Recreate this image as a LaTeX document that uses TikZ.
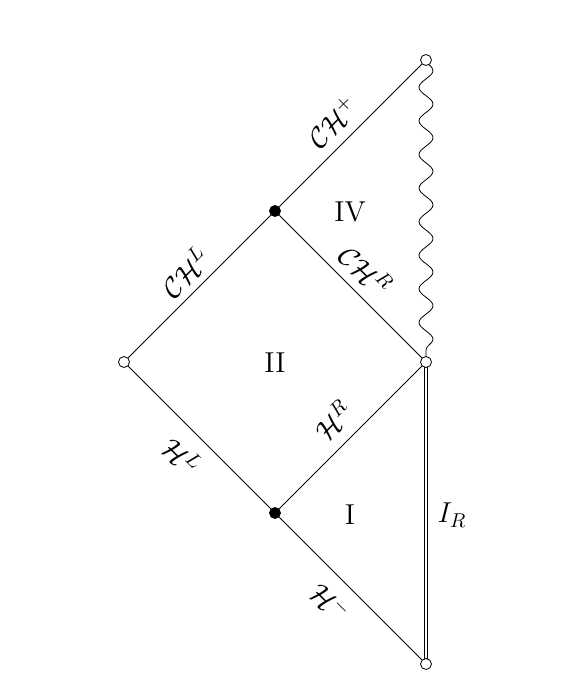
\documentclass[tikz,border=0pt]{standalone}
\usetikzlibrary{decorations.pathmorphing}
\begin{document}
\begin{tikzpicture}[x=0.5pt,y=-0.5pt,
  open/.style={circle,draw,fill=white,inner sep=0pt,minimum size=5.5pt},
  filled/.style={circle,draw,fill=black,inner sep=0pt,minimum size=5.5pt},
  lbl/.style={font=\Large},
  edge/.style={line width=0.4pt}]
\useasboundingbox (0,0) rectangle (588,690);
\coordinate (T) at (426,60);
\coordinate (A) at (275,211);
\coordinate (L) at (124,362);
\coordinate (R) at (426,362);
\coordinate (B) at (275,513);
\coordinate (D) at (426,664);
\draw[edge] (T) -- (A) -- (L) -- (B) -- (D);
\draw[edge] (A) -- (R) -- (B);
\draw[edge,decorate,decoration={snake,segment length=16.8pt,amplitude=3.5pt}] (T) -- (R);
\draw[double,double distance=1.3pt] (R) -- (D);
\node[open] (nT) at (T) {};
\node[filled] (nA) at (A) {};
\node[open] (nL) at (L) {};
\node[open] (nR) at (R) {};
\node[filled] (nB) at (B) {};
\node[open] (nD) at (D) {};
\node[lbl,rotate=45] (l1) at (333,122) {$\mathcal{CH}^{+}$};
\node[lbl,rotate=45] (l2) at (185,272) {$\mathcal{CH}^{L}$};
\node[lbl,rotate=-45] (l3) at (366,270) {$\mathcal{CH}^{R}$};
\node[lbl,rotate=-45] (l4) at (182,456) {$\mathcal{H}^{L}$};
\node[lbl,rotate=45] (l5) at (333,420) {$\mathcal{H}^{R}$};
\node[lbl,rotate=-45] (l6) at (330,602) {$\mathcal{H}^{-}$};
\node[lbl] (l7) at (452,515) {$I_R$};
\node[lbl] (r4) at (350,212) {IV};
\node[lbl] (r2) at (275,363) {II};
\node[lbl] (r1) at (350,515) {I};
\end{tikzpicture}
\end{document}
